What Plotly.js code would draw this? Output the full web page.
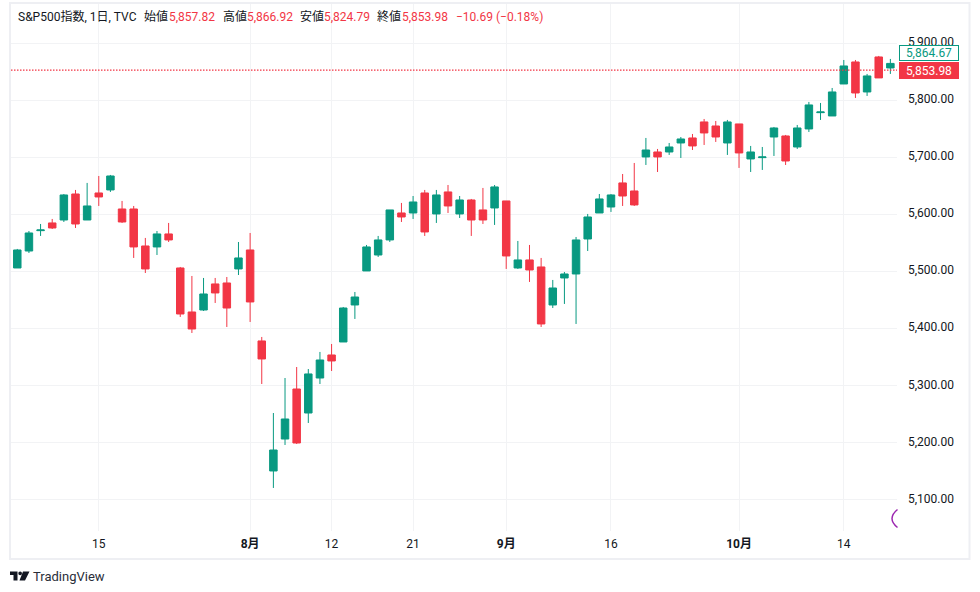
<!DOCTYPE html>
<html><head><meta charset="utf-8">
<script src="https://cdn.plot.ly/plotly-3.0.1.min.js"></script>
<style>html,body{margin:0;padding:0;background:#fff}#c{width:980px;height:592px}</style>
</head><body><div id="c"></div>
<script>
const dates = ["07-03","07-05","07-08","07-09","07-10","07-11","07-12","07-15","07-16","07-17","07-18","07-19","07-22","07-23","07-24","07-25","07-26","07-29","07-30","07-31",
"08-01","08-02","08-05","08-06","08-07","08-08","08-09","08-12","08-13","08-14","08-15","08-16","08-19","08-20","08-21","08-22","08-23","08-26","08-27","08-28","08-29","08-30",
"09-03","09-04","09-05","09-06","09-09","09-10","09-11","09-12","09-13","09-16","09-17","09-18","09-19","09-20","09-23","09-24","09-25","09-26","09-27","09-30",
"10-01","10-02","10-03","10-04","10-07","10-08","10-09","10-10","10-11","10-14","10-15","10-16","10-17","10-18"];
const open = [5505.8,5535.6,5571.3,5584.8,5590,5635.6,5590,5637.4,5642.7,5609.3,5609.3,5544.4,5542.7,5565.5,5505.8,5428.6,5432.1,5477.8,5479.5,5504.1,
5537.4,5377.8,5149.7,5205.8,5293.5,5251.4,5312.8,5353.2,5376,5440.9,5500.6,5528.6,5555,5602.3,5602.3,5637.4,5600.6,5639.2,5600.6,5625.1,5607.6,5611.1,
5623.4,5505.8,5519.9,5507.6,5440.9,5488.3,5495.3,5556.7,5602.3,5612.8,5655,5640.9,5700.6,5709.3,5709.3,5725.1,5733.9,5762,5754.9,5725.1,
5758.5,5697.1,5699.4,5735.6,5737.4,5718.1,5749.7,5778.3,5772.5,5828.6,5867.2,5814.6,5876,5856.7];
const high = [5539.2,5570.7,5583,5591.8,5635.6,5642.7,5655,5667.2,5669,5623.4,5614.6,5558.5,5570.7,5584.8,5507.6,5491.8,5488.3,5488.3,5490,5551.4,
5567.2,5384.8,5251.4,5312.8,5332.1,5328.6,5358.5,5372.5,5437.4,5463.7,5546.2,5562,5607.6,5619.9,5632.1,5642.7,5642.7,5651.4,5632.1,5626.9,5646.2,5651.4,
5623.4,5553.2,5546.2,5523.4,5484.8,5498.8,5560.2,5600.6,5635.6,5635.6,5670.7,5690,5733.9,5714.6,5725.1,5735.6,5740.9,5767.2,5763.7,5765.5,
5758.5,5719.9,5718.1,5753.2,5739.2,5756.7,5797.1,5795.3,5821.6,5870.7,5870.7,5846.2,5877.8,5872.5];
const low = [5505.8,5532.1,5562,5574.2,5586.5,5576,5590,5614.6,5639.2,5584.8,5523.4,5497,5528.6,5551.4,5419.9,5391.8,5430.4,5444.4,5402.3,5493.5,
5411.1,5302.3,5119.9,5195.3,5197.1,5233.9,5302.3,5325.1,5376,5416.4,5500.6,5525.1,5551.4,5586.5,5591.8,5562,5584.8,5602.3,5593.5,5562,5583,5581.3,
5504.1,5504.1,5481.3,5402.3,5435.6,5442.7,5407.6,5535.6,5602.3,5604.1,5614.6,5614.6,5686.5,5674.2,5704.1,5698.8,5712.8,5721.6,5726.9,5704.1,
5681.3,5674.2,5677.8,5702.3,5686.5,5714.6,5744.4,5765.5,5772.5,5828.6,5804.1,5807.6,5839.2,5846.2];
const close = [5537.4,5567.2,5572.5,5576,5633.9,5583,5614.6,5630.4,5667.2,5586.5,5542.7,5504.1,5565.5,5555,5425.1,5398.8,5460.2,5462,5435.6,5523.4,
5446.2,5346.2,5186.5,5240.9,5198.8,5319.9,5344.4,5342.7,5435.6,5454.9,5542.7,5555,5607.6,5595.3,5621.6,5569,5633.9,5614.6,5625.1,5590,5590,5648,
5526.9,5519.9,5502.3,5407.6,5470.7,5495.3,5555,5595.3,5626.9,5633.9,5632.1,5616.4,5712.8,5700.6,5718.1,5732.1,5719.9,5742.7,5735.6,5762,
5707.6,5709.3,5700.6,5751.4,5693.5,5751.4,5791.8,5779.5,5814.6,5860.2,5812.8,5842.7,5839.2,5864.67];
const priceTicks = [5100,5200,5300,5400,5500,5600,5700,5800,5900];
const priceLabels = ["5,100.00","5,200.00","5,300.00","5,400.00","5,500.00","5,600.00","5,700.00","5,800.00","5,900.00"];
const timeTicks = ["07-15","08-01","08-12","08-21","09-03","09-16","10-01","10-14"];
const timeLabels = ["15","<b>8月</b>","12","21","<b>9月</b>","16","<b>10月</b>","14"];
const lastPrice = 5864.67, markPrice = 5853.98;

const UP="#089981", DN="#F23645", INK="#131722", FRAME="#EEEFF3", GRID="#F2F3F5";
const FONT="Roboto, 'Noto Sans CJK JP', sans-serif";
const L=11,R=897,T=4,B=531,W=R-L,H=B-T;
const px=x=>(x-L)/W, py=y=>(B-y)/H;

const headerParts = [
 [18,"S&P500指数, 1日, TVC",INK],[144,"始値",INK],[169,"5,857.82",DN],[223,"高値",INK],[247,"5,866.92",DN],
 [300,"安値",INK],[324,"5,824.79",DN],[377,"終値",INK],[402,"5,853.98",DN],[456,"−10.69 (−0.18%)",DN]
];
const ann = headerParts.map(p=>({xref:'paper',yref:'paper',x:px(p[0]),y:py(17),xanchor:'left',yanchor:'middle',showarrow:false,text:p[1],
  font:{family:FONT,size:12,color:p[2]},borderpad:0,borderwidth:0}));
ann.push({xref:'paper',yref:'y',x:px(899),y:lastPrice,yshift:10,xanchor:'left',yanchor:'middle',showarrow:false,text:"5,864.67",
  font:{family:FONT,size:12,color:UP},bgcolor:"#fff",bordercolor:UP,borderwidth:1,borderpad:0,width:58,height:14});
ann.push({xref:'paper',yref:'y',x:px(899),y:markPrice,yshift:-1,xanchor:'left',yanchor:'middle',showarrow:false,text:"5,853.98",
  font:{family:FONT,size:12,color:"#fff"},bgcolor:DN,bordercolor:DN,borderwidth:1,borderpad:0,width:58,height:15});
ann.push({xref:'paper',yref:'paper',x:px(31),y:py(576),xanchor:'left',yanchor:'middle',showarrow:false,text:"TradingView",
  font:{family:FONT,size:13,color:"#2a2e39"}});

const P=(pts)=>pts.map((p,i)=>(i?'L':'M')+px(p[0]).toFixed(5)+','+py(p[1]).toFixed(5)).join(' ')+' Z';
const shapes=[
 {type:'line',xref:'paper',x0:0,x1:1,yref:'y',y0:markPrice-1.2,y1:markPrice-1.2,line:{color:DN,width:1.3,dash:'1.5px,1.5px'}},
 {type:'rect',xref:'paper',yref:'paper',x0:px(10),x1:px(969.5),y0:py(3),y1:py(559),line:{color:FRAME,width:2},fillcolor:'rgba(0,0,0,0)'},
 {type:'path',xref:'paper',yref:'paper',path:`M${px(897.5)},${py(509.5)} Q${px(886.5)},${py(518.5)} ${px(897.5)},${py(527.5)}`,line:{color:'#9C27B0',width:1.5},fillcolor:'rgba(0,0,0,0)'},
 {type:'path',xref:'paper',yref:'paper',path:P([[10,571.5],[17.5,571.5],[17.5,580.5],[13.5,580.5],[13.5,575],[10,575]]),fillcolor:INK,line:{width:0}},
 {type:'path',xref:'paper',yref:'paper',path:P([[23,571.5],[29.5,571.5],[25,580.5],[19.5,580.5]]),fillcolor:INK,line:{width:0}},
 {type:'circle',xref:'paper',yref:'paper',x0:px(18.3),x1:px(22),y0:py(571.5),y1:py(575.2),fillcolor:INK,line:{width:0}}
];

Plotly.newPlot('c',[{
  type:'candlestick',x:dates,open:open,high:high,low:low,close:close,
  increasing:{line:{color:UP,width:1},fillcolor:UP},
  decreasing:{line:{color:DN,width:1},fillcolor:DN},
  whiskerwidth:0,hoverinfo:'none'
}],{
  width:980,height:592,showlegend:false,boxgap:0.08,
  paper_bgcolor:'#fff',plot_bgcolor:'#fff',
  margin:{l:L,r:980-R,t:T,b:592-B,pad:0},
  font:{family:FONT,size:12,color:INK},
  xaxis:{type:'category',categoryorder:'array',categoryarray:dates,range:[-0.54,75.57],
    rangeslider:{visible:false},tickmode:'array',tickvals:timeTicks,ticktext:timeLabels,
    showgrid:true,gridcolor:GRID,gridwidth:1,zeroline:false,showline:false,ticks:'',ticklabelstandoff:4,
    tickfont:{family:FONT,size:12,color:INK},fixedrange:true},
  yaxis:{side:'right',range:[5044.4,5968.9],tickmode:'array',tickvals:priceTicks,ticktext:priceLabels,
    showgrid:true,gridcolor:GRID,gridwidth:1,zeroline:false,showline:false,ticks:'',ticklabelstandoff:10,ticklabelshift:-1,
    tickfont:{family:FONT,size:12,color:INK},fixedrange:true},
  annotations:ann,shapes:shapes
},{displayModeBar:false,staticPlot:true});
</script></body></html>
